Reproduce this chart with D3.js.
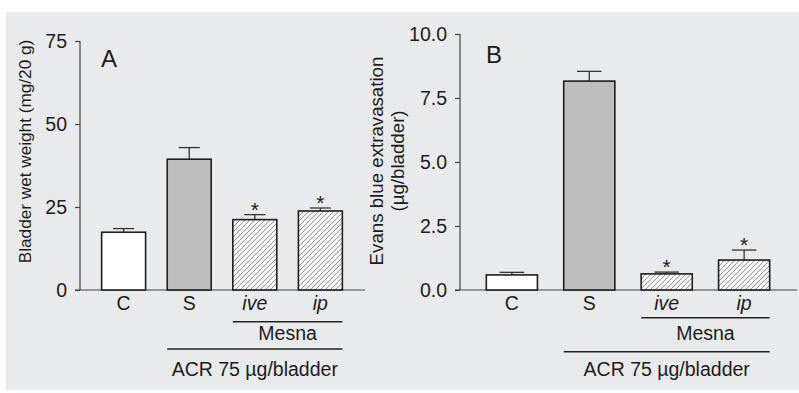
<!DOCTYPE html>
<html lang="en">
<head>
    <meta charset="UTF-8">
    <title>Bladder wet weight and Evans blue extravasation</title>
    <script src="https://d3js.org/d3.v7.min.js"></script>
    <style>
        body { margin: 0; background: #fff; }
        svg text { font-family: "Liberation Sans", Arial, Helvetica, sans-serif; fill: #1c1c1c; }
    </style>
</head>
<body>
    <svg width="799" height="393"></svg>

    <script>
        // data
        const categories = ["C", "S", "ive", "ip"];
        const weightMean = [17.4, 39.4, 21.2, 23.8];
        const weightErr = [1.1, 3.5, 1.5, 0.9];
        const evansMean = [0.59, 8.16, 0.63, 1.17];
        const evansErr = [0.10, 0.38, 0.07, 0.39];
        const significant = [false, false, true, true];
        const ticksA = [0, 25, 50, 75];
        const ticksB = [0, 2.5, 5, 7.5, 10];

        const svg = d3.select("svg");

        // grey panel background
        svg.append("rect")
            .attr("x", 6).attr("y", 12)
            .attr("width", 793).attr("height", 378)
            .attr("fill", "#e9eaec");

        const defs = svg.append("defs");
        const pat = defs.append("pattern")
            .attr("id", "hatch")
            .attr("patternUnits", "userSpaceOnUse")
            .attr("width", 5).attr("height", 5);
        pat.append("rect").attr("width", 5).attr("height", 5).attr("fill", "#f7f7f7");
        pat.append("path")
            .attr("d", "M-1,1 l2,-2 M0,5 l5,-5 M4,6 l2,-2")
            .attr("stroke", "#6a6a6a")
            .attr("stroke-width", 0.7);

        const fills = ["#ffffff", "#bebebe", "url(#hatch)", "url(#hatch)"];

        function panel(opt) {
            const g = svg.append("g");

            const x = d3.scaleBand()
                .domain(categories)
                .range(opt.xRange)
                .paddingInner(opt.pad)
                .paddingOuter(opt.pad);

            const y = d3.scaleLinear()
                .domain([0, d3.max(opt.ticks)])
                .range(opt.yRange);

            const rows = categories.map((c, i) => ({
                c: c, i: i, v: opt.mean[i], e: opt.err[i], sig: significant[i]
            }));

            // y axis
            const yAxis = d3.axisLeft(y)
                .tickValues(opt.ticks)
                .tickSize(5)
                .tickPadding(8)
                .tickFormat(opt.fmt);

            const ya = g.append("g")
                .attr("transform", `translate(${opt.xRange[0]},0)`)
                .call(yAxis);
            ya.select(".domain").attr("stroke", "#444").attr("stroke-width", 1.2)
                .attr("d", `M0,${y(0)}V${y(d3.max(opt.ticks))}`);
            ya.selectAll(".tick line").attr("stroke", "#444").attr("stroke-width", 1.2);
            ya.selectAll(".tick text")
                .attr("font-size", "19.5px")
                .attr("font-family", "Liberation Sans, Arial, sans-serif")
                .attr("fill", "#1c1c1c");

            // baseline
            g.append("line")
                .attr("x1", opt.xRange[0] - 5).attr("x2", opt.xRange[1] + 1)
                .attr("y1", y(0)).attr("y2", y(0))
                .attr("stroke", "#444").attr("stroke-width", 1.2);

            const bw = x.bandwidth();

            // error bars
            rows.forEach(d => {
                const cx = x(d.c) + bw / 2;
                g.append("line")
                    .attr("x1", cx).attr("x2", cx)
                    .attr("y1", y(d.v)).attr("y2", y(d.v + d.e))
                    .attr("stroke", "#333").attr("stroke-width", 1.3);
                g.append("line")
                    .attr("x1", cx - bw * 0.24).attr("x2", cx + bw * 0.24)
                    .attr("y1", y(d.v + d.e)).attr("y2", y(d.v + d.e))
                    .attr("stroke", "#333").attr("stroke-width", 1.3);
            });

            // bars
            g.selectAll(".bar")
                .data(rows)
                .enter().append("rect")
                .attr("class", "bar")
                .attr("x", d => x(d.c))
                .attr("y", d => y(d.v))
                .attr("width", bw)
                .attr("height", d => y(0) - y(d.v))
                .attr("fill", d => fills[d.i])
                .attr("stroke", "#1e1e1e")
                .attr("stroke-width", 1.6);

            // asterisks
            g.selectAll(".star")
                .data(rows.filter(d => d.sig))
                .enter().append("text")
                .attr("x", d => x(d.c) + bw / 2)
                .attr("y", d => y(d.v + d.e) + 2)
                .attr("text-anchor", "middle")
                .attr("font-size", "21px")
                .text("*");

            // category labels
            g.selectAll(".cat")
                .data(rows)
                .enter().append("text")
                .attr("x", d => x(d.c) + bw / 2)
                .attr("y", 310)
                .attr("text-anchor", "middle")
                .attr("font-size", "19.5px")
                .attr("font-style", d => d.i >= 2 ? "italic" : "normal")
                .text(d => d.c);

            // Mesna bracket
            const mx0 = x("ive"), mx1 = x("ip") + bw;
            g.append("line")
                .attr("x1", mx0).attr("x2", mx1)
                .attr("y1", opt.mesnaY).attr("y2", opt.mesnaY)
                .attr("stroke", "#222").attr("stroke-width", 1.6);
            g.append("text")
                .attr("x", (mx0 + mx1) / 2).attr("y", 340)
                .attr("text-anchor", "middle")
                .attr("font-size", "19.5px")
                .text("Mesna");

            // ACR bracket
            const ax0 = x("S"), ax1 = x("ip") + bw;
            g.append("line")
                .attr("x1", ax0).attr("x2", ax1)
                .attr("y1", opt.acrY).attr("y2", opt.acrY)
                .attr("stroke", "#222").attr("stroke-width", 1.6);
            g.append("text")
                .attr("x", (ax0 + ax1) / 2).attr("y", 376)
                .attr("text-anchor", "middle")
                .attr("font-size", "19.5px")
                .text("ACR 75 \u00b5g/bladder");

            // panel letter
            g.append("text")
                .attr("x", opt.letterX).attr("y", opt.letterY)
                .attr("font-size", "24px")
                .text(opt.letter);

            // y title
            opt.title.forEach((t, k) => {
                g.append("text")
                    .attr("transform", `translate(${opt.titleX[k]},${opt.titleY}) rotate(-90)`)
                    .attr("text-anchor", "middle")
                    .attr("font-size", opt.titleSize)
                    .text(t);
            });
        }

        panel({
            mean: weightMean, err: weightErr, ticks: ticksA,
            fmt: d3.format("d"),
            xRange: [80, 364], pad: 0.33, yRange: [290, 41],
            mesnaY: 321.7, acrY: 349,
            letter: "A", letterX: 101, letterY: 66.5,
            title: ["Bladder wet weight (mg/20 g)"], titleX: [31], titleY: 151.5,
            titleSize: "17.2px"
        });

        panel({
            mean: evansMean, err: evansErr, ticks: ticksB,
            fmt: d3.format(".1f"),
            xRange: [460, 796], pad: 0.34, yRange: [290, 34],
            mesnaY: 317.7, acrY: 351.7,
            letter: "B", letterX: 486, letterY: 62.7,
            title: ["Evans blue extravasation", "(\u00b5g/bladder)"], titleX: [383, 403.5], titleY: 161,
            titleSize: "18.7px"
        });
    </script>
</body>
</html>
